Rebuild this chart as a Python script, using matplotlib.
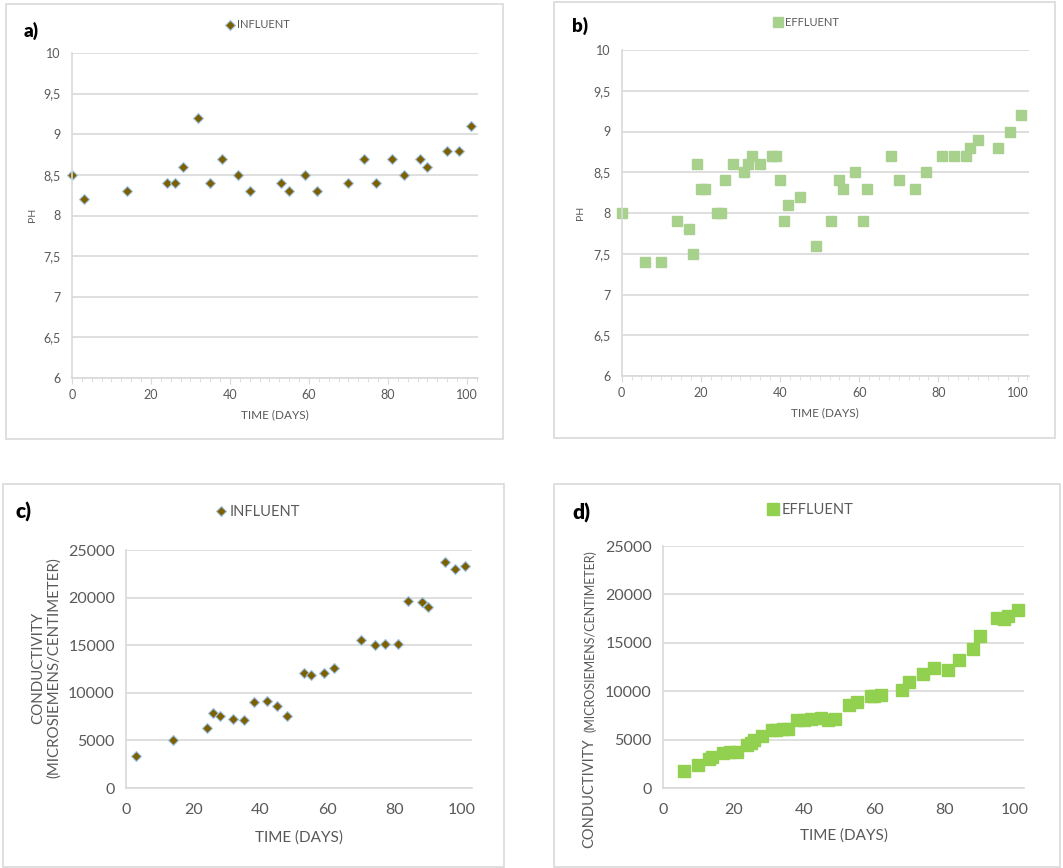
import matplotlib
matplotlib.use("Agg")
import matplotlib.pyplot as plt
from matplotlib.patches import Rectangle
from matplotlib.ticker import MultipleLocator, FuncFormatter

plt.rcParams['font.family'] = ['Lato', 'DejaVu Sans']

# a) influent pH
ph_in_days = [0, 3, 14, 24, 26, 28, 32, 35, 38, 42, 45, 53, 55, 59, 62, 70, 74, 77, 81, 84, 88, 90, 95, 98, 101]
ph_in = [8.5, 8.2, 8.3, 8.4, 8.4, 8.6, 9.2, 8.4, 8.7, 8.5, 8.3, 8.4, 8.3, 8.5, 8.3, 8.4, 8.7, 8.4, 8.7, 8.5, 8.7, 8.6, 8.8, 8.8, 9.1]

# b) effluent pH
ph_ef_days = [0, 6, 10, 14, 17, 18, 19, 20, 21, 24, 25, 26, 28, 31, 32, 33, 35, 38, 39, 40, 41, 42, 45, 49,
              53, 55, 56, 59, 61, 62, 68, 70, 74, 77, 81, 84, 87, 88, 90, 95, 98, 101]
ph_ef = [8.0, 7.4, 7.4, 7.9, 7.8, 7.5, 8.6, 8.3, 8.3, 8.0, 8.0, 8.4, 8.6, 8.5, 8.6, 8.7, 8.6, 8.7, 8.7, 8.4, 7.9, 8.1, 8.2, 7.6,
         7.9, 8.4, 8.3, 8.5, 7.9, 8.3, 8.7, 8.4, 8.3, 8.5, 8.7, 8.7, 8.7, 8.8, 8.9, 8.8, 9.0, 9.2]

# c) influent conductivity
ec_in_days = [3, 14, 24, 26, 28, 32, 35, 38, 42, 45, 48, 53, 55, 59, 62, 70, 74, 77, 81, 84, 88, 90, 95, 98, 101]
ec_in = [3400, 5050, 6330, 7900, 7590, 7270, 7130, 8990, 9090, 8570, 7590, 12030, 11820, 12100, 12590,
         15520, 14970, 15100, 15100, 19690, 19580, 19060, 23780, 22970, 23290]

# d) effluent conductivity
ec_ef_days = [6, 10, 13, 14, 17, 19, 21, 24, 25, 26, 28, 31, 32, 34, 35.5, 38, 40, 42, 45, 47, 49,
              53, 55, 59, 60, 62, 68, 70, 74, 77, 81, 84, 88, 90, 95, 97, 98, 101]
ec_ef = [1800, 2400, 3000, 3200, 3600, 3700, 3750, 4470, 4700, 5000, 5400, 5950, 6000, 6100, 6100, 7050, 7050,
         7100, 7200, 7050, 7150, 8600, 8870, 9520, 9520, 9600, 10080, 10900, 11760, 12380, 12140, 13240,
         14370, 15750, 17600, 17430, 17780, 18400]

W, H = 1063, 868
fig = plt.figure(figsize=(W / 100, H / 100), dpi=100)

GRID = '#d9d9d9'
TXT = '#595959'


def fx(x):
    return x / W


def fy(y):
    return 1 - y / H


def axes_px(l, r, t, b):
    return fig.add_axes([fx(l), fy(b), (r - l) / W, (b - t) / H])


# chart-area frames
for l, t, r, b in [(6, 4, 503, 439), (554, 2, 1055, 438), (3, 484, 504, 867), (554, 484, 1060, 867)]:
    fig.patches.append(Rectangle((fx(l), fy(b)), (r - l) / W, (b - t) / H, transform=fig.transFigure,
                                 fill=False, edgecolor=GRID, lw=1.2))


def style(ax, ymax, ystep, xmax, fs, minor):
    ax.set_xlim(0, xmax)
    ax.set_ylim(0 if ymax > 100 else 6, ymax)
    ax.yaxis.set_major_locator(MultipleLocator(ystep))
    ax.xaxis.set_major_locator(MultipleLocator(20))
    ax.grid(axis='y', color=GRID, lw=1.2)
    ax.set_axisbelow(True)
    for s in ['top', 'right']:
        ax.spines[s].set_visible(False)
    for s in ['left', 'bottom']:
        ax.spines[s].set_color(GRID)
        ax.spines[s].set_linewidth(1.2)
    ax.tick_params(axis='y', length=0, labelsize=fs, labelcolor=TXT, pad=8)
    if minor:
        ax.xaxis.set_minor_locator(MultipleLocator(2.5))
        ax.tick_params(axis='x', which='major', length=4, color=GRID, labelsize=fs, labelcolor=TXT, pad=4)
        ax.tick_params(axis='x', which='minor', length=3, color=GRID)
    else:
        ax.tick_params(axis='x', length=0, labelsize=fs, labelcolor=TXT, pad=11)
    ax.yaxis.set_major_formatter(FuncFormatter(lambda v, p: ('%g' % v).replace('.', ',')))


diamond = dict(marker='D', linestyle='none', markerfacecolor='#7f6000', markeredgecolor='#9dc3e6')

# a)
ax = axes_px(72, 478, 53, 378)
style(ax, 10, 0.5, 102.8, 9, True)
ax.plot(ph_in_days, ph_in, markersize=4.7, markeredgewidth=0.8, label='INFLUENT', clip_on=False, **diamond)
ax.legend(loc='center', bbox_to_anchor=(fx(258), fy(25)), bbox_transform=fig.transFigure, frameon=False,
          fontsize=8, handlelength=0.6, handletextpad=0.3, borderpad=0, labelcolor=TXT)
fig.text(fx(275), fy(415), 'TIME (DAYS)', ha='center', va='center', fontsize=8.5, color=TXT)
fig.text(fx(32), fy(215), 'PH', ha='center', va='center', rotation=90, fontsize=7.5, color=TXT)
fig.text(fx(24), fy(31), 'a)', ha='left', va='center', fontsize=13.5, fontweight='heavy')

# b)
ax = axes_px(621.7, 1029, 50, 376)
style(ax, 10, 0.5, 102.9, 9, True)
ax.plot(ph_ef_days, ph_ef, marker='s', linestyle='none', markersize=6.5, color='#a9d18e', label='EFFLUENT',
        clip_on=False)
ax.legend(loc='center', bbox_to_anchor=(fx(807), fy(22)), bbox_transform=fig.transFigure, frameon=False,
          fontsize=8, handlelength=0.6, handletextpad=0.3, borderpad=0, labelcolor=TXT)
fig.text(fx(825), fy(413), 'TIME (DAYS)', ha='center', va='center', fontsize=8.5, color=TXT)
fig.text(fx(581), fy(213), 'PH', ha='center', va='center', rotation=90, fontsize=7.5, color=TXT)
fig.text(fx(572), fy(26), 'b)', ha='left', va='center', fontsize=13.5, fontweight='heavy')

# c)
ax = axes_px(126, 472, 550, 788)
style(ax, 25000, 5000, 103, 11.5, False)
ax.plot(ec_in_days, ec_in, markersize=5.5, markeredgewidth=0.8, label='INFLUENT', clip_on=False, **diamond)
ax.legend(loc='center', bbox_to_anchor=(fx(258), fy(512)), bbox_transform=fig.transFigure, frameon=False,
          fontsize=10.5, handlelength=0.6, handletextpad=0.3, borderpad=0, labelcolor=TXT)
fig.text(fx(299), fy(838), 'TIME (DAYS)', ha='center', va='center', fontsize=11, color=TXT)
fig.text(fx(46), fy(668), 'CONDUCTIVITY\n(MICROSIEMENS/CENTIMETER)', ha='center', va='center', rotation=90,
         fontsize=10.8, color=TXT, multialignment='center', linespacing=1.1)
fig.text(fx(16), fy(512), 'c)', ha='left', va='center', fontsize=15, fontweight='heavy')

# d)
ax = axes_px(663, 1024, 546, 788)
style(ax, 25000, 5000, 102.6, 11.5, False)
ax.plot(ec_ef_days, ec_ef, marker='s', linestyle='none', markersize=8.6, color='#92d050', label='EFFLUENT',
        clip_on=False)
ax.legend(loc='center', bbox_to_anchor=(fx(811), fy(510)), bbox_transform=fig.transFigure, frameon=False,
          fontsize=10.5, handlelength=0.6, handletextpad=0.3, borderpad=0, labelcolor=TXT)
fig.text(fx(844), fy(836), 'TIME (DAYS)', ha='center', va='center', fontsize=11, color=TXT)
fig.text(fx(589), fy(848), 'CONDUCTIVITY', ha='center', va='bottom', rotation=90, fontsize=10.5, color=TXT)
fig.text(fx(590), fy(550), '(MICROSIEMENS/CENTIMETER)', ha='center', va='top', rotation=90,
         fontsize=9.0, color=TXT)
fig.text(fx(572), fy(513), 'd)', ha='left', va='center', fontsize=15, fontweight='heavy')

fig.savefig('out.png', dpi=100)
